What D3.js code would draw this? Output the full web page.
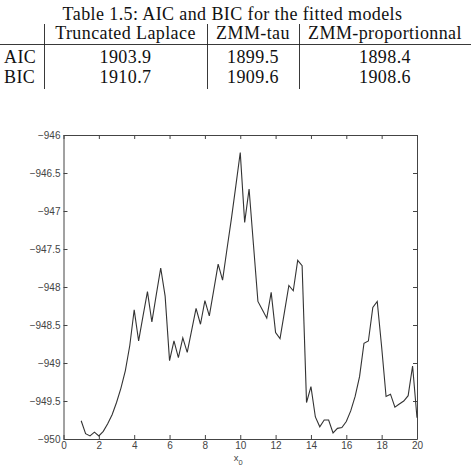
<!DOCTYPE html>
<head>
  <meta charset='utf-8'>
  <script src='https://d3js.org/d3.v7.min.js'></script>
  <style>
    body { margin: 0; background: #fff; }
    .tbl text { font-family: 'Liberation Serif', serif; font-size: 18px; letter-spacing: 0.4px; fill: #111; }
    .axis text { font-family: 'Liberation Sans', Arial, sans-serif; font-size: 10px; fill: #444; }
    .axis path, .axis line { stroke: #444; }
  </style>
</head>
<body>
<script>

// table
const tableTitle = 'Table 1.5: AIC and BIC for the fitted models';
const models = ['Truncated Laplace', 'ZMM-tau', 'ZMM-proportionnal'];
const criteria = ['AIC', 'BIC'];
const aic = [1903.9, 1899.5, 1898.4];
const bic = [1910.7, 1909.6, 1908.6];

// curve
const x0 = [1, 1.25, 1.5, 1.75, 2, 2.25, 2.5, 2.75, 3, 3.25, 3.5, 3.75, 4, 4.25, 4.5, 4.75,
  5, 5.25, 5.5, 5.75, 6, 6.25, 6.5, 6.75, 7, 7.25, 7.5, 7.75, 8, 8.25, 8.5, 8.75,
  9, 9.25, 9.5, 9.75, 10, 10.25, 10.5, 10.75, 11, 11.25, 11.5, 11.75, 12, 12.25, 12.5, 12.75,
  13, 13.25, 13.5, 13.75, 14, 14.25, 14.5, 14.75, 15, 15.25, 15.5, 15.75, 16, 16.25, 16.5, 16.75,
  17, 17.25, 17.5, 17.75, 18, 18.25, 18.5, 18.75, 19, 19.25, 19.5, 19.75, 20];
const loglik = [-949.76, -949.93, -949.96, -949.91, -949.96, -949.90, -949.80, -949.68,
  -949.52, -949.33, -949.10, -948.77, -948.30, -948.71, -948.38, -948.06,
  -948.46, -948.10, -947.75, -948.12, -948.97, -948.71, -948.93, -948.67,
  -948.86, -948.57, -948.28, -948.49, -948.18, -948.38, -948.04, -947.70,
  -947.91, -947.50, -947.10, -946.67, -946.23, -947.15, -946.71, -947.45,
  -948.19, -948.30, -948.41, -948.07, -948.60, -948.68, -948.33, -947.98,
  -948.05, -947.65, -947.72, -949.52, -949.31, -949.71, -949.84, -949.75,
  -949.75, -949.92, -949.86, -949.85, -949.77, -949.63, -949.44, -949.18,
  -948.74, -948.71, -948.27, -948.19, -948.79, -949.44, -949.41, -949.58,
  -949.54, -949.50, -949.43, -949.04, -949.72];
const xTicks = [0, 2, 4, 6, 8, 10, 12, 14, 16, 18, 20];
const yTicks = [-950, -949.5, -949, -948.5, -948, -947.5, -947, -946.5, -946];

const width = 471, height = 470;
const svg = d3.select('body').append('svg').attr('width', width).attr('height', height);

// ---- table ----
const tbl = svg.append('g').attr('class', 'tbl');
const colEdges = [44, 207, 299, 471];
const colMid = d3.range(3).map(i => (colEdges[i] + colEdges[i + 1]) / 2);

tbl.append('text').attr('x', 232.5).attr('y', 20).attr('text-anchor', 'middle').text(tableTitle);

tbl.selectAll('.hdr').data(models).enter().append('text')
  .attr('x', (d, i) => colMid[i]).attr('y', 39).attr('text-anchor', 'middle').text(d => d);

const rows = [aic, bic];
rows.forEach((r, j) => {
  const yy = 63 + j * 20;
  tbl.append('text').attr('x', 4).attr('y', yy).text(criteria[j]);
  tbl.selectAll('.v' + j).data(r).enter().append('text')
    .attr('x', (d, i) => colMid[i]).attr('y', yy).attr('text-anchor', 'middle')
    .text(d => d.toFixed(1));
});

tbl.append('line').attr('x1', 0).attr('x2', 471).attr('y1', 44.5).attr('y2', 44.5)
  .attr('stroke', '#222').attr('stroke-width', 0.9);
colEdges.slice(0, 3).forEach(cx => {
  tbl.append('line').attr('x1', cx + 0.5).attr('x2', cx + 0.5).attr('y1', 24).attr('y2', 89)
    .attr('stroke', '#222').attr('stroke-width', 0.9);
});

// ---- plot ----
const pl = 63.5, pr = 417, pt = 135, pb = 439;
const x = d3.scaleLinear().domain([0, 20]).range([pl, pr]);
const y = d3.scaleLinear().domain([-950, -946]).range([pb, pt]);
const fmt = d => String(d).replace('-', '\u2212');

svg.append('g').attr('class', 'axis')
  .attr('transform', `translate(0,${pb})`)
  .call(d3.axisBottom(x).tickValues(xTicks).tickSizeInner(-4).tickSizeOuter(0).tickPadding(3).tickFormat(fmt));
svg.append('g').attr('class', 'axis')
  .attr('transform', `translate(0,${pt})`)
  .call(d3.axisTop(x).tickValues(xTicks).tickSizeInner(-4).tickSizeOuter(0).tickFormat(''));
svg.append('g').attr('class', 'axis')
  .attr('transform', `translate(${pl},0)`)
  .call(d3.axisLeft(y).tickValues(yTicks).tickSizeInner(-4).tickSizeOuter(0).tickPadding(3).tickFormat(fmt));
svg.append('g').attr('class', 'axis')
  .attr('transform', `translate(${pr},0)`)
  .call(d3.axisRight(y).tickValues(yTicks).tickSizeInner(-4).tickSizeOuter(0).tickFormat(''));

const xl = svg.append('text')
  .attr('x', x(10) - 2).attr('y', 461).attr('text-anchor', 'middle')
  .style('font-family', "'Liberation Sans', Arial, sans-serif").style('font-size', '9.5px').attr('fill', '#444');
xl.append('tspan').text('x');
xl.append('tspan').attr('dy', 3.5).style('font-size', '7.5px').text('0');

svg.append('path')
  .datum(x0.map((d, i) => [d, loglik[i]]))
  .attr('fill', 'none').attr('stroke', '#333').attr('stroke-width', 1.1)
  .attr('d', d3.line().x(d => x(d[0])).y(d => y(d[1])));

</script>
</body>
